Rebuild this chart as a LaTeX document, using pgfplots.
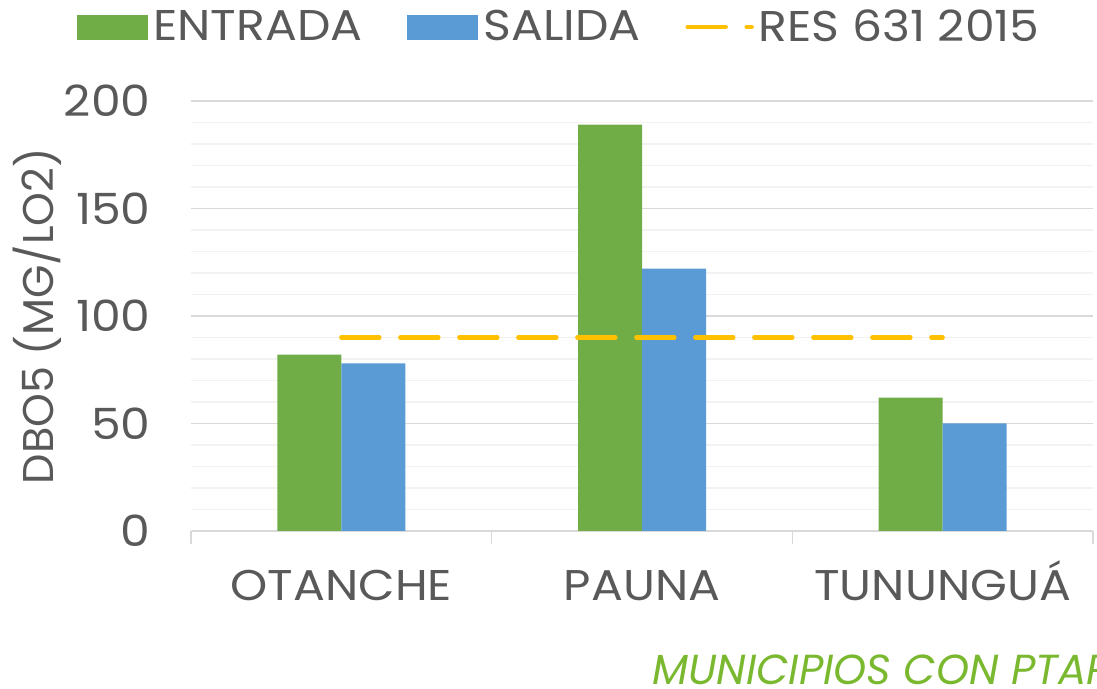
\documentclass[border=0pt]{standalone}
\usepackage{fontspec}
\setmainfont{Poppins}[FakeStretch=1.1]
\newfontfamily\etiq{Poppins}
\usepackage{pgfplots}
\pgfplotsset{compat=1.18}

\definecolor{entrada}{HTML}{70AD47}
\definecolor{salida}{HTML}{5B9BD5}
\definecolor{norma}{HTML}{FFC000}
\definecolor{txt}{HTML}{595959}
\definecolor{ejeverde}{RGB}{122,184,48}
\definecolor{gmaj}{HTML}{D9D9D9}
\definecolor{gmin}{HTML}{F2F2F2}

\newcommand{\fz}{\fontsize{21.5}{25}\selectfont}

\begin{document}
\begin{tikzpicture}
\useasboundingbox (-95.5pt,-79pt) rectangle (453pt,265.5pt);
\begin{axis}[
    at={(0pt,0pt)}, anchor=south west,
    scale only axis,
    width=451pt, height=215pt,
    xmin=-0.5, xmax=2.5,
    ymin=0, ymax=200,
    ybar=0pt, bar width=32pt,
    xtick={0,1,2},
    xticklabels={OTANCHE,PAUNA,TUNUNGUÁ},
    minor xtick={-0.5,0.5,1.5,2.5},
    major x tick style={draw=none},
    minor x tick style={gmaj, line width=0.8pt},
    minor tick length=6.5pt,
    ytick={0,50,100,150,200},
    minor ytick={10,20,30,40,60,70,80,90,110,120,130,140,160,170,180,190},
    ymajorgrids, yminorgrids,
    major grid style={gmaj, line width=0.8pt},
    minor grid style={gmin, line width=0.8pt},
    y tick style={draw=none},
    axis x line*=bottom,
    axis y line*=left,
    y axis line style={draw=none},
    x axis line style={gmaj, line width=0.8pt, -},
    tick label style={font=\fz, text=txt, inner sep=0pt},
    /pgf/number format/assume math mode=true,
    yticklabel style={anchor=east, xshift=-20pt},
    xticklabel style={anchor=base, yshift=-30.5pt},
    ylabel={\etiq DBO5 (MG/LO2)},
    every axis y label/.style={at={(-77pt,107.5pt)}, rotate=90, anchor=center,
        font=\fz, text=txt},
    xlabel={\etiq\itshape MUNICIPIOS CON PTAR},
    every axis x label/.style={at={(227pt,-77pt)}, anchor=base west,
        font=\fontsize{21}{25}\selectfont, text=ejeverde},
    legend columns=3,
    legend style={at={(axis description cs:-0.1264,1.172)}, anchor=west,
        draw=none, fill=none, inner sep=0pt, column sep=0pt,
        font=\fz, text=txt,
        nodes={inner sep=0pt},
        /tikz/every odd column/.append style={column sep=2.5pt},
        /tikz/every even column/.append style={column sep=22.5pt}},
    legend cell align=left,
    clip=false,
]
\addplot[fill=entrada, draw=none,
    legend image code/.code={\fill[entrada] (0pt,-6.25pt) rectangle (35.5pt,6.25pt);}]
    coordinates {(0,82) (1,189) (2,62)};
\addlegendentry{ENTRADA}
\addplot[fill=salida, draw=none,
    legend image code/.code={\fill[salida] (0pt,-6.25pt) rectangle (35.5pt,6.25pt);}]
    coordinates {(0,78) (1,122) (2,50)};
\addlegendentry{SALIDA}
\addplot[sharp plot, norma, line width=2.2pt, line cap=round,
    dash pattern=on 19pt off 10.5pt,
    legend image code/.code={\draw[norma, line width=2.2pt, line cap=round,
        dash pattern=on 19pt off 10.5pt] (1pt,0pt) -- (33pt,0pt);}]
    coordinates {(0,90) (1,90) (2,90)};
\addlegendentry{RES 631 2015}
\end{axis}
\end{tikzpicture}
\end{document}
